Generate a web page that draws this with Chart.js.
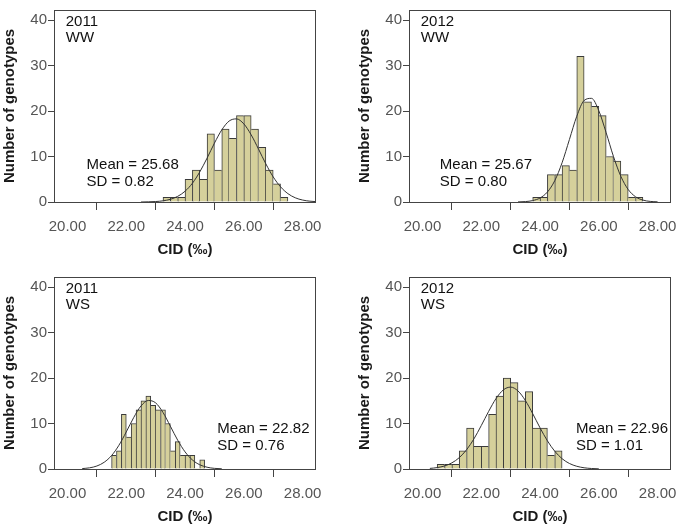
<!DOCTYPE html>
<html lang="en">
<head>
    <meta charset="UTF-8">
    <title>CID histograms - WW / WS, 2011 / 2012</title>
    <script src="https://cdn.jsdelivr.net/npm/chart.js"></script>
    <style>
        html, body { margin: 0; padding: 0; background: #fff; overflow: hidden; }
        .panel { position: absolute; width: 330px; height: 266px; }
    </style>
</head>
<body>

    <div class="panel" style="left:0;top:0"><canvas id="ww2011"></canvas></div>
    <div class="panel" style="left:355px;top:0"><canvas id="ww2012"></canvas></div>
    <div class="panel" style="left:0;top:267px"><canvas id="ws2011"></canvas></div>
    <div class="panel" style="left:355px;top:267px"><canvas id="ws2012"></canvas></div>

    <script>
        // axes
        const xTickValues = [20, 22, 24, 26, 28];
        const yTickValues = [0, 10, 20, 30, 40];
        const xMin = 19.54, xMax = 28.45, yMax = 42.2;

        // histogram bins (first bin edge, bin width, counts)
        const ww2011Start = 23.25, ww2011Width = 0.25;
        const ww2011Counts = [1, 1, 1, 5, 7, 5, 15, 7, 16, 14, 19, 19, 16, 12, 7, 4, 1];
        const ww2012Start = 23.75, ww2012Width = 0.25;
        const ww2012Counts = [1, 1, 6, 6, 8, 7, 32, 22, 21, 19, 10, 9, 6, 1, 1];
        const ws2011Start = 21.5, ws2011Width = 1 / 6;
        const ws2011Counts = [3, 4, 12, 7, 10, 13, 15, 16, 14, 13, 13, 10, 4, 6, 3, 3, 3, 0, 2];
        const ws2012Start = 20.5, ws2012Width = 0.25;
        const ws2012Counts = [1, 1, 1, 4, 9, 5, 5, 12, 16, 20, 19, 15, 17, 9, 9, 3, 4];

        // normal curves
        const ww2011CurveX = [22.5, 22.75, 23, 23.25, 23.5, 23.75, 24, 24.25, 24.5, 24.75, 25, 25.25, 25.5, 25.75, 26, 26.25, 26.5, 26.75, 27, 27.25, 27.5, 27.75, 28, 28.25, 28.45];
        const ww2011CurveY = [0, 0.04, 0.1, 0.26, 0.59, 1.24, 2.36, 4.12, 6.6, 9.65, 12.93, 15.85, 17.79, 18.27, 17.17, 14.77, 11.63, 8.38, 5.52, 3.34, 1.84, 0.93, 0.43, 0.18, 0.08];
        const ww2012CurveX = [23.25, 23.5, 23.75, 24, 24.25, 24.5, 24.75, 25, 25.25, 25.5, 25.75, 26, 26.25, 26.5, 26.75, 27, 27.25, 27.5, 27.75, 28];
        const ww2012CurveY = [0.02, 0.09, 0.31, 0.88, 2.19, 4.68, 8.63, 13.74, 18.85, 22.31, 22.78, 20.06, 15.23, 9.98, 5.64, 2.75, 1.15, 0.42, 0.13, 0.04];
        const ws2011CurveX = [20.5, 20.75, 21, 21.25, 21.5, 21.75, 22, 22.25, 22.5, 22.75, 23, 23.25, 23.5, 23.75, 24, 24.25, 24.5, 24.75, 25, 25.25];
        const ws2011CurveY = [0.09, 0.26, 0.66, 1.49, 2.96, 5.22, 8.15, 11.28, 13.85, 15.06, 14.53, 12.42, 9.41, 6.33, 3.77, 1.99, 0.93, 0.39, 0.14, 0.05];
        const ws2012CurveX = [20.25, 20.5, 20.75, 21, 21.25, 21.5, 21.75, 22, 22.25, 22.5, 22.75, 23, 23.25, 23.5, 23.75, 24, 24.25, 24.5, 24.75, 25, 25.25, 25.5, 25.75, 26];
        const ws2012CurveY = [0.13, 0.31, 0.67, 1.35, 2.49, 4.24, 6.62, 9.55, 12.66, 15.46, 17.38, 18.0, 17.15, 15.06, 12.17, 9.05, 6.2, 3.91, 2.27, 1.21, 0.6, 0.27, 0.11, 0.04];

        Chart.defaults.font.family = '"Liberation Sans", Arial, sans-serif';

        // frame around the plot + text labels inside it
        const panelText = {
            id: 'panelText',
            afterDatasetsDraw(chart, args, opts) {
                const { ctx, chartArea: a, scales: { x, y } } = chart;
                ctx.save();
                ctx.strokeStyle = '#444';
                ctx.lineWidth = 1;
                ctx.strokeRect(Math.round(a.left) + 0.5, Math.round(a.top) + 0.5,
                               Math.round(a.width) - 1, Math.round(a.height));
                ctx.fillStyle = '#111';
                ctx.font = '15px "Liberation Sans", Arial, sans-serif';
                ctx.textBaseline = 'middle';
                (opts.notes || []).forEach(n => {
                    ctx.fillText(n.text, x.getPixelForValue(n.x), y.getPixelForValue(n.y));
                });
                ctx.restore();
            }
        };

        // one border per shared edge: the taller bar owns it
        function edgeWidths(c) {
            if (c.dataIndex === undefined) return 1;
            const d = c.dataset.data, i = c.dataIndex, h = d[i].y;
            const prev = i > 0 ? d[i - 1].y : 0;
            const next = i < d.length - 1 ? d[i + 1].y : 0;
            return { top: 1, bottom: 0, left: h >= prev ? 1 : 0, right: h > next ? 1 : 0 };
        }

        function drawPanel(id, binStart, binWidth, counts, curveX, curveY, notes) {
            const bars = counts.map((c, i) => ({ x: binStart + (i + 0.5) * binWidth, y: c }));
            const curve = curveX.map((v, i) => ({ x: v, y: curveY[i] }));
            new Chart(document.getElementById(id), {
                type: 'bar',
                data: {
                    datasets: [{
                        type: 'line',
                        data: curve,
                        borderColor: '#333',
                        borderWidth: 1,
                        pointRadius: 0,
                        cubicInterpolationMode: 'monotone',
                        order: 0
                    }, {
                        data: bars,
                        backgroundColor: '#d5d09b',
                        borderColor: '#3a3a3a',
                        borderWidth: edgeWidths,
                        barPercentage: 1,
                        categoryPercentage: 1,
                        grouped: false,
                        order: 1
                    }]
                },
                options: {
                    responsive: true,
                    maintainAspectRatio: false,
                    animation: false,
                    events: [],
                    layout: { padding: { top: 5, right: 13, left: 0, bottom: 0 } },
                    plugins: {
                        legend: { display: false },
                        tooltip: { enabled: false },
                        panelText: { notes: notes }
                    },
                    scales: {
                        x: {
                            type: 'linear',
                            min: xMin,
                            max: xMax,
                            offset: false,
                            afterBuildTicks: s => { s.ticks = xTickValues.map(v => ({ value: v })); },
                            afterFit: s => { s.height = 64; },
                            ticks: {
                                callback: v => v.toFixed(2),
                                color: '#555',
                                font: { size: 15 },
                                padding: 8,
                                maxRotation: 0,
                                autoSkip: false
                            },
                            grid: { drawOnChartArea: false, tickLength: 8, color: '#444' },
                            border: { color: '#444' },
                            title: {
                                display: true,
                                text: 'CID (‰)',
                                color: '#1a1a1a',
                                font: { size: 15, weight: 'bold' },
                                padding: { top: 0, bottom: 7 }
                            }
                        },
                        y: {
                            min: 0,
                            max: yMax,
                            afterBuildTicks: s => { s.ticks = yTickValues.map(v => ({ value: v })); },
                            afterFit: s => { s.width = 54; },
                            ticks: { color: '#555', font: { size: 15 }, padding: 1 },
                            grid: { drawOnChartArea: false, tickLength: 6, color: '#444' },
                            border: { color: '#444' },
                            title: {
                                display: true,
                                text: 'Number of genotypes',
                                color: '#1a1a1a',
                                font: { size: 15, weight: 'bold' },
                                padding: { top: 1, bottom: 0 }
                            }
                        }
                    }
                },
                plugins: [panelText]
            });
        }

        drawPanel('ww2011', ww2011Start, ww2011Width, ww2011Counts, ww2011CurveX, ww2011CurveY, [
            { text: '2011', x: 19.94, y: 39.6 }, { text: 'WW', x: 19.94, y: 36.1 },
            { text: 'Mean = 25.68', x: 20.65, y: 8.2 }, { text: 'SD = 0.82', x: 20.65, y: 4.4 }
        ]);
        drawPanel('ww2012', ww2012Start, ww2012Width, ww2012Counts, ww2012CurveX, ww2012CurveY, [
            { text: '2012', x: 19.94, y: 39.6 }, { text: 'WW', x: 19.94, y: 36.1 },
            { text: 'Mean = 25.67', x: 20.59, y: 8.2 }, { text: 'SD = 0.80', x: 20.59, y: 4.4 }
        ]);
        drawPanel('ws2011', ws2011Start, ws2011Width, ws2011Counts, ws2011CurveX, ws2011CurveY, [
            { text: '2011', x: 19.94, y: 39.6 }, { text: 'WS', x: 19.94, y: 36.1 },
            { text: 'Mean = 22.82', x: 25.1, y: 8.9 }, { text: 'SD = 0.76', x: 25.1, y: 5.1 }
        ]);
        drawPanel('ws2012', ws2012Start, ws2012Width, ws2012Counts, ws2012CurveX, ws2012CurveY, [
            { text: '2012', x: 19.94, y: 39.6 }, { text: 'WS', x: 19.94, y: 36.1 },
            { text: 'Mean = 22.96', x: 25.22, y: 8.9 }, { text: 'SD = 1.01', x: 25.22, y: 5.1 }
        ]);
    </script>
</body>
</html>
